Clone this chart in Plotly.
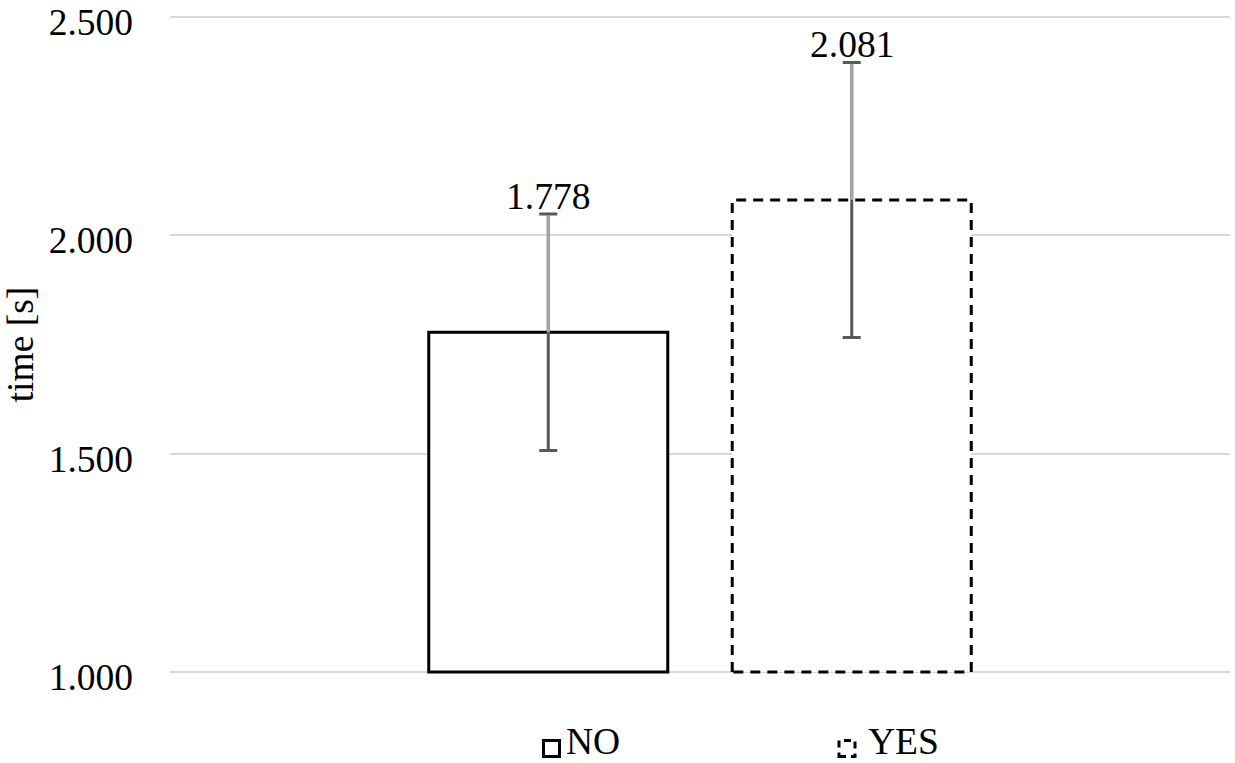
import plotly.graph_objects as go

# ---- data ----
series = ["NO", "YES"]
means = [1.778, 2.081]
errors = [0.271, 0.315]
ytick_vals = [1.0, 1.5, 2.0, 2.5]
y_title = "time [s]"

# ---- layout constants ----
FONT = "Liberation Serif, Times New Roman, serif"
FS = 37.5
W, H = 1235, 763
PAD_PX = 5
ML, MR, MT, MB = 170, 5, 17 - PAD_PX, 91 - PAD_PX
Y_LO, Y_HI = 1.0, 2.5
px_per_unit = (H - 17 - 91) / (Y_HI - Y_LO)
pad = PAD_PX / px_per_unit
BASE = 1.0
BARGAP = 0.4274
BARGROUPGAP = 0.2124
slot = (1 - BARGAP) / len(series)
centers = [-(1 - BARGAP) / 2 + slot * (i + 0.5) for i in range(len(series))]
half_w = slot * (1 - BARGROUPGAP) / 2
dashes = ["solid", "10px,7px"]
legend_sq = ["solid", "7px,5px"]
ERR_DARK = "#595959"
ERR_LIGHT = "#a6a6a6"


def paper_x(px):
    return (px - ML) / (W - ML - MR)


def paper_y(py):
    return (H - MB - py) / (H - MT - MB)


fig = go.Figure()

# bars
for i, (name, m) in enumerate(zip(series, means)):
    fig.add_trace(go.Bar(
        x=[0], y=[m - BASE], base=BASE, name=name,
        marker=dict(color="white",
                    line=dict(color="black", width=3 if dashes[i] == "solid" else 0)),
        showlegend=False, hoverinfo="skip"))

# dashed outlines for bars that need them
for i, (name, m) in enumerate(zip(series, means)):
    if dashes[i] != "solid":
        c = centers[i]
        fig.add_trace(go.Scatter(
            x=[c - half_w, c - half_w, c + half_w, c + half_w, c - half_w],
            y=[BASE, m, m, BASE, BASE], mode="lines",
            line=dict(color="black", width=3, dash=dashes[i]),
            showlegend=False, hoverinfo="skip"))

# error bars (dark full, light upper stem)
fig.add_trace(go.Scatter(
    x=centers, y=means, mode="markers", marker=dict(opacity=0, size=1),
    error_y=dict(type="data", array=errors, symmetric=True, color=ERR_DARK,
                 thickness=3, width=9),
    showlegend=False, hoverinfo="skip"))
fig.add_trace(go.Scatter(
    x=centers, y=means, mode="markers", marker=dict(opacity=0, size=1),
    error_y=dict(type="data", array=[e * 0.99 for e in errors],
                 arrayminus=[0] * len(errors), symmetric=False,
                 color=ERR_LIGHT, thickness=3, width=0),
    showlegend=False, hoverinfo="skip"))

# data labels
for c, m, e in zip(centers, means, errors):
    fig.add_annotation(x=c, y=m + e, text=f"{m:.3f}", showarrow=False,
                       yanchor="bottom", yshift=-5,
                       font=dict(family=FONT, size=FS, color="black"))

# manual legend
leg_sq_px = [551.5, 847]
leg_txt_px = [565, 867]
LEG_Y = 748.5
for i, name in enumerate(series):
    fig.add_shape(type="rect", xref="paper", yref="paper",
                  xsizemode="pixel", ysizemode="pixel",
                  xanchor=paper_x(leg_sq_px[i]), yanchor=paper_y(LEG_Y),
                  x0=-8, x1=8, y0=-8, y1=8,
                  line=dict(color="black", width=3, dash=legend_sq[i]),
                  fillcolor="white")
    fig.add_annotation(xref="paper", yref="paper", x=paper_x(leg_txt_px[i]),
                       y=paper_y(H), xanchor="left", yanchor="bottom",
                       text=name, showarrow=False, borderpad=0,
                       font=dict(family=FONT, size=FS, color="black"))

fig.update_layout(
    width=W, height=H,
    margin=dict(l=ML, r=MR, t=MT, b=MB, autoexpand=False),
    paper_bgcolor="white", plot_bgcolor="white",
    barmode="group", bargap=BARGAP, bargroupgap=BARGROUPGAP,
    showlegend=False,
    font=dict(family=FONT, size=FS, color="black"),
    xaxis=dict(range=[-0.5, 0.5], showticklabels=False, showgrid=False,
               zeroline=False, showline=False, fixedrange=True,
               automargin=False),
    yaxis=dict(range=[Y_LO - pad, Y_HI + pad], tickvals=ytick_vals,
               tickformat=".3f",
               showgrid=True, gridcolor="#d9d9d9", gridwidth=2,
               zeroline=False, showline=False, ticks="",
               ticklabelstandoff=36, ticklabelshift=5, automargin=False,
               ticklabeloverflow="allow",
               tickfont=dict(family=FONT, size=FS, color="black"),
               title=dict(text=y_title, standoff=28,
                          font=dict(family=FONT, size=FS, color="black"))),
)

fig.write_html("out.html",
               config={"displayModeBar": False},
               post_script="document.body.style.margin='0';"
                           "document.body.style.overflow='hidden';")
